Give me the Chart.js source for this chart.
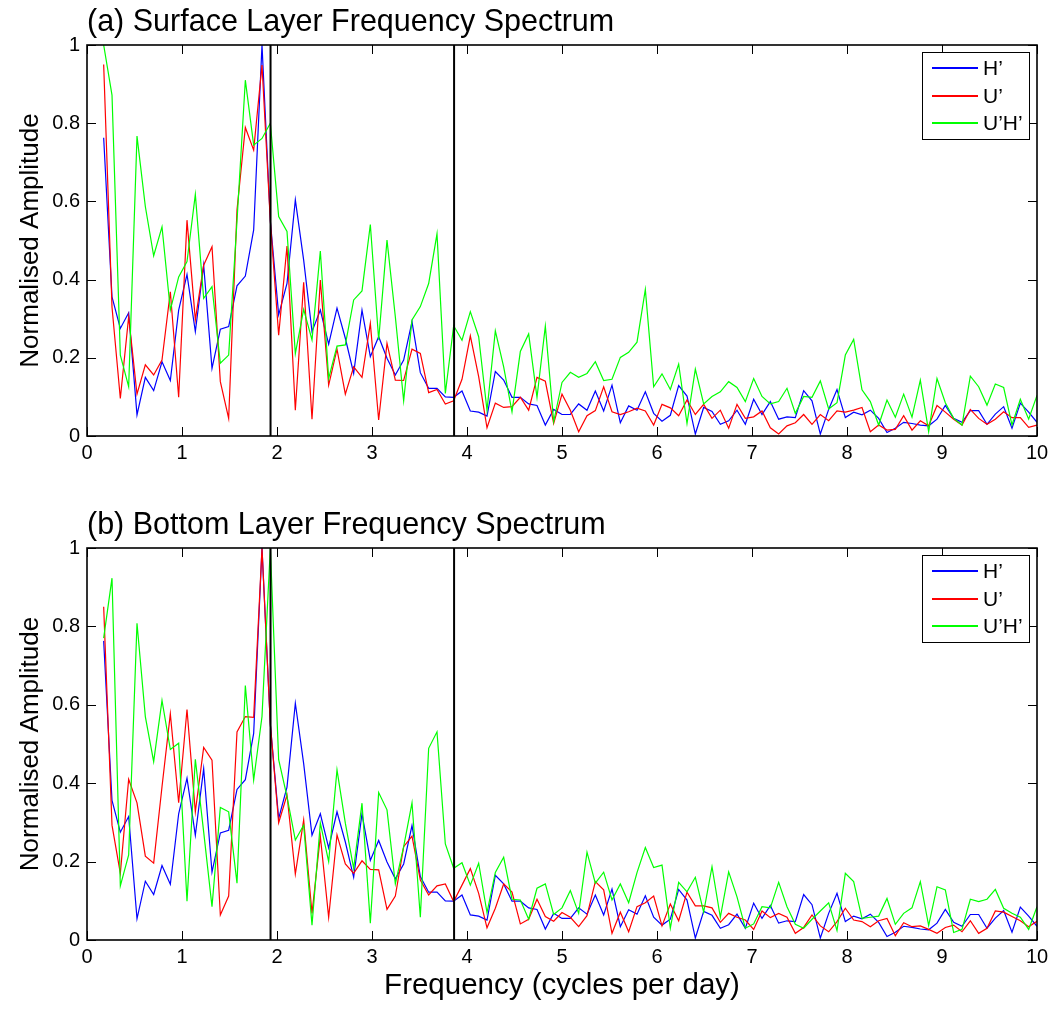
<!DOCTYPE html>
<html>
<head>
<meta charset="utf-8">
<script src="https://cdn.jsdelivr.net/npm/chart.js@4.4.0/dist/chart.umd.min.js"></script>
<style>
  body { margin: 0; background: #fff; }
  #wrap { position: relative; width: 1057px; height: 1017px; }
  #wrap canvas { position: absolute; left: 0; }
</style>
</head>
<body>
<div id="wrap">
  <canvas id="surface" width="1057" height="480" style="top:0"></canvas>
  <canvas id="bottom" width="1057" height="517" style="top:500px"></canvas>
</div>
<script>
// spectrum bins: f = k * binWidth, k = 2..114
var binWidth = 10 / 114;
var firstBin = 2;

// H' (same in both panels)
var hPrime = [
  0.763, 0.356, 0.275, 0.315, 0.054, 0.15, 0.116, 0.19, 0.142, 0.322,
  0.413, 0.267, 0.437, 0.173, 0.273, 0.28, 0.384, 0.409, 0.527, 1.0,
  0.55, 0.31, 0.39, 0.604, 0.45, 0.267, 0.322, 0.235, 0.327, 0.25,
  0.16, 0.322, 0.203, 0.254, 0.199, 0.156, 0.194, 0.292, 0.162, 0.122,
  0.122, 0.1, 0.099, 0.115, 0.064, 0.061, 0.051, 0.165, 0.143, 0.099,
  0.099, 0.082, 0.078, 0.028, 0.068, 0.055, 0.055, 0.082, 0.066, 0.115,
  0.064, 0.13, 0.034, 0.077, 0.066, 0.113, 0.058, 0.038, 0.053, 0.129,
  0.102, 0.005, 0.073, 0.063, 0.03, 0.039, 0.066, 0.03, 0.094, 0.055,
  0.088, 0.043, 0.049, 0.047, 0.116, 0.09, 0.005, 0.068, 0.119, 0.047,
  0.061, 0.054, 0.066, 0.045, 0.009, 0.02, 0.035, 0.032, 0.028, 0.026,
  0.043, 0.078, 0.045, 0.035, 0.065, 0.065, 0.03, 0.056, 0.075, 0.02,
  0.084, 0.061, 0.035
];

// (a) surface layer
var uSurface = [
  0.95, 0.33, 0.096, 0.305, 0.107, 0.182, 0.156, 0.194, 0.369, 0.099,
  0.552, 0.297, 0.437, 0.484, 0.139, 0.045, 0.578, 0.789, 0.731, 0.949,
  0.55, 0.258, 0.486, 0.066, 0.393, 0.043, 0.399, 0.13, 0.222, 0.107,
  0.177, 0.15, 0.288, 0.041, 0.237, 0.143, 0.142, 0.222, 0.211, 0.111,
  0.119, 0.082, 0.09, 0.145, 0.256, 0.152, 0.021, 0.084, 0.073, 0.075,
  0.099, 0.066, 0.15, 0.14, 0.032, 0.107, 0.066, 0.011, 0.052, 0.065,
  0.126, 0.062, 0.055, 0.062, 0.071, 0.064, 0.028, 0.081, 0.072, 0.052,
  0.092, 0.055, 0.081, 0.045, 0.066, 0.02, 0.081, 0.045, 0.049, 0.064,
  0.021, 0.005, 0.026, 0.034, 0.055, 0.03, 0.055, 0.039, 0.064, 0.061,
  0.066, 0.073, 0.011, 0.028, 0.015, 0.017, 0.052, 0.015, 0.039, 0.026,
  0.078, 0.061, 0.043, 0.028, 0.068, 0.045, 0.03, 0.043, 0.062, 0.047,
  0.047, 0.022, 0.028
];
var uhSurface = [
  1.0, 0.872, 0.207, 0.126, 0.767, 0.587, 0.461, 0.535, 0.322, 0.407,
  0.446, 0.618, 0.352, 0.382, 0.186, 0.207, 0.55, 0.91, 0.744, 0.761,
  0.8, 0.561, 0.523, 0.211, 0.324, 0.246, 0.473, 0.147, 0.23, 0.233,
  0.348, 0.371, 0.541, 0.246, 0.501, 0.305, 0.09, 0.297, 0.331, 0.39,
  0.517, 0.109, 0.282, 0.245, 0.318, 0.254, 0.066, 0.269, 0.177, 0.062,
  0.216, 0.261, 0.099, 0.281, 0.037, 0.137, 0.163, 0.15, 0.16, 0.19,
  0.142, 0.145, 0.201, 0.214, 0.24, 0.375, 0.126, 0.159, 0.119, 0.184,
  0.032, 0.171, 0.082, 0.101, 0.113, 0.139, 0.124, 0.088, 0.147, 0.101,
  0.082, 0.088, 0.122, 0.058, 0.101, 0.099, 0.141, 0.069, 0.085, 0.207,
  0.247, 0.118, 0.088, 0.028, 0.092, 0.048, 0.107, 0.048, 0.143, 0.011,
  0.147, 0.085, 0.045, 0.028, 0.153, 0.126, 0.079, 0.133, 0.124, 0.028,
  0.094, 0.043, 0.104
];

// (b) bottom layer
var uBottom = [
  0.85, 0.293, 0.17, 0.41, 0.35, 0.214, 0.196, 0.391, 0.577, 0.35,
  0.588, 0.327, 0.491, 0.459, 0.064, 0.112, 0.531, 0.57, 0.568, 0.999,
  0.55, 0.299, 0.37, 0.168, 0.306, 0.068, 0.265, 0.058, 0.268, 0.194,
  0.17, 0.202, 0.18, 0.179, 0.078, 0.112, 0.238, 0.265, 0.153, 0.115,
  0.138, 0.143, 0.098, 0.14, 0.182, 0.119, 0.031, 0.081, 0.143, 0.122,
  0.041, 0.053, 0.104, 0.06, 0.048, 0.07, 0.058, 0.034, 0.062, 0.149,
  0.128, 0.017, 0.071, 0.021, 0.085, 0.095, 0.112, 0.036, 0.092, 0.049,
  0.122, 0.087, 0.087, 0.082, 0.045, 0.068, 0.058, 0.051, 0.027, 0.074,
  0.057, 0.068, 0.058, 0.017, 0.032, 0.064, 0.036, 0.021, 0.047, 0.081,
  0.051, 0.047, 0.034, 0.049, 0.055, 0.011, 0.044, 0.034, 0.036, 0.027,
  0.017, 0.032, 0.038, 0.021, 0.049, 0.017, 0.03, 0.074, 0.071, 0.06,
  0.049, 0.034, 0.048
];
var uhBottom = [
  0.77, 0.923, 0.138, 0.217, 0.808, 0.57, 0.455, 0.611, 0.486, 0.502,
  0.099, 0.461, 0.276, 0.085, 0.338, 0.327, 0.145, 0.649, 0.408, 0.57,
  1.0, 0.46, 0.366, 0.255, 0.293, 0.038, 0.298, 0.2, 0.434, 0.298,
  0.183, 0.349, 0.043, 0.376, 0.332, 0.143, 0.238, 0.35, 0.058, 0.489,
  0.531, 0.245, 0.183, 0.197, 0.14, 0.196, 0.07, 0.172, 0.211, 0.104,
  0.102, 0.053, 0.132, 0.143, 0.065, 0.082, 0.126, 0.068, 0.224, 0.145,
  0.173, 0.102, 0.143, 0.095, 0.172, 0.236, 0.185, 0.191, 0.03, 0.147,
  0.123, 0.16, 0.071, 0.187, 0.058, 0.174, 0.11, 0.03, 0.041, 0.085,
  0.082, 0.147, 0.085, 0.04, 0.03, 0.053, 0.074, 0.095, 0.024, 0.17,
  0.149, 0.055, 0.058, 0.061, 0.106, 0.04, 0.068, 0.082, 0.149, 0.037,
  0.136, 0.128, 0.019, 0.027, 0.104, 0.098, 0.104, 0.129, 0.081, 0.068,
  0.058, 0.027, 0.085
];

// M2 and M4 tidal frequencies (vertical lines)
var tidalFreqs = [1.932, 3.864];

var seriesNames = ["H\u2019", "U\u2019", "U\u2019H\u2019"];
var seriesColors = ["#0000ff", "#ff0000", "#00ff00"];
var fontFamily = "'Liberation Sans', Arial, Helvetica, sans-serif";

var freqs = hPrime.map(function (_, i) { return (firstBin + i) * binWidth; });

function toPoints(values) {
  return values.map(function (v, i) { return { x: freqs[i], y: v }; });
}

// box round the axes with inward ticks on all four sides
var framePlugin = {
  id: "frame",
  afterDatasetsDraw: function (chart) {
    var ctx = chart.ctx, a = chart.chartArea;
    var xs = chart.scales.x, ys = chart.scales.y;
    ctx.save();
    ctx.strokeStyle = "#000";
    ctx.lineWidth = 1;
    ctx.beginPath();
    xs.ticks.forEach(function (t) {
      var px = Math.round(xs.getPixelForValue(t.value)) + 0.5;
      ctx.moveTo(px, a.bottom); ctx.lineTo(px, a.bottom - 9);
      ctx.moveTo(px, a.top); ctx.lineTo(px, a.top + 9);
    });
    ys.ticks.forEach(function (t) {
      var py = Math.round(ys.getPixelForValue(t.value)) + 0.5;
      ctx.moveTo(a.left, py); ctx.lineTo(a.left + 9, py);
      ctx.moveTo(a.right, py); ctx.lineTo(a.right - 9, py);
    });
    ctx.stroke();
    ctx.lineWidth = 1.6;
    ctx.strokeRect(a.left, a.top, a.right - a.left, a.bottom - a.top);
    ctx.restore();
  }
};

// panel title + legend box
var decorPlugin = {
  id: "decor",
  afterDraw: function (chart, args, opts) {
    var ctx = chart.ctx, a = chart.chartArea;
    ctx.save();
    ctx.fillStyle = "#000";
    ctx.font = "30.5px " + fontFamily;
    ctx.textBaseline = "alphabetic";
    ctx.textAlign = "left";
    ctx.fillText(opts.title, a.left, a.top - 14);

    var bx = Math.round(a.right) - 115, by = Math.round(a.top) + 7, bw = 107, bh = 87;
    ctx.fillStyle = "#fff";
    ctx.fillRect(bx, by, bw, bh);
    ctx.strokeStyle = "#000";
    ctx.lineWidth = 1;
    ctx.strokeRect(bx + 0.5, by + 0.5, bw, bh);
    ctx.font = "21px " + fontFamily;
    ctx.textBaseline = "middle";
    seriesNames.forEach(function (name, i) {
      var ry = by + 16 + Math.round(i * 27.5);
      ctx.strokeStyle = seriesColors[i];
      ctx.lineWidth = 2;
      ctx.beginPath();
      ctx.moveTo(bx + 10, ry); ctx.lineTo(bx + 56, ry);
      ctx.stroke();
      ctx.fillStyle = "#000";
      ctx.fillText(name, bx + 61, ry + 1);
    });
    ctx.restore();
  }
};

function buildDatasets(uValues, uhValues) {
  var sets = [
    { label: seriesNames[0], data: toPoints(hPrime), borderColor: seriesColors[0], order: 3 },
    { label: seriesNames[1], data: toPoints(uValues), borderColor: seriesColors[1], order: 2 },
    { label: seriesNames[2], data: toPoints(uhValues), borderColor: seriesColors[2], order: 1 }
  ];
  tidalFreqs.forEach(function (f) {
    sets.push({ label: "", data: [{ x: f, y: 0 }, { x: f, y: 1 }], borderColor: "#000", borderWidth: 2, order: 0 });
  });
  return sets;
}

function makeChart(id, title, uValues, uhValues, isLower) {
  var ctx = document.getElementById(id).getContext("2d");
  return new Chart(ctx, {
    type: "line",
    data: { datasets: buildDatasets(uValues, uhValues) },
    options: {
      responsive: false,
      animation: false,
      devicePixelRatio: 1,
      layout: { padding: { top: isLower ? 48 : 45, right: 20, left: 0, bottom: 0 } },
      elements: {
        line: { borderWidth: 1.2, tension: 0 },
        point: { radius: 0 }
      },
      plugins: {
        legend: { display: false },
        tooltip: { enabled: false },
        decor: { title: title }
      },
      scales: {
        x: {
          type: "linear",
          min: 0,
          max: 10,
          grid: { display: false, drawTicks: false },
          border: { display: false },
          ticks: {
            stepSize: 1,
            padding: 5,
            maxRotation: 0,
            color: "#000",
            font: { family: fontFamily, size: 20 }
          },
          title: {
            display: isLower,
            text: "Frequency (cycles per day)",
            color: "#000",
            font: { family: fontFamily, size: 29.5 },
            padding: { top: 0, bottom: 13 }
          },
          afterFit: function (s) { s.height = isLower ? 77 : 44; }
        },
        y: {
          min: 0,
          max: 1,
          grid: { display: false, drawTicks: false },
          border: { display: false },
          ticks: {
            stepSize: 0.2,
            padding: 7,
            color: "#000",
            font: { family: fontFamily, size: 20 },
            callback: function (v) { return String(Number(v.toFixed(1))); }
          },
          title: {
            display: true,
            text: "Normalised Amplitude",
            color: "#000",
            font: { family: fontFamily, size: 26 },
            padding: { top: 15, bottom: 0 }
          },
          afterFit: function (s) { s.width = 87; }
        }
      }
    },
    plugins: [framePlugin, decorPlugin]
  });
}

makeChart("surface", "(a) Surface Layer Frequency Spectrum", uSurface, uhSurface, false);
makeChart("bottom", "(b) Bottom Layer Frequency Spectrum", uBottom, uhBottom, true);
</script>
</body>
</html>
